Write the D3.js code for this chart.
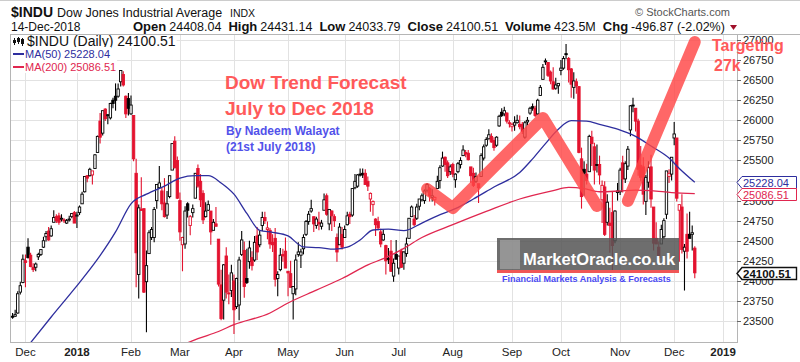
<!DOCTYPE html>
<html>
<head>
<meta charset="utf-8">
<script src="https://cdn.jsdelivr.net/npm/d3@7"></script>
<style>
  body { margin: 0; background: #fff; }
  svg { display: block; }
  text { font-family: "Liberation Sans", Arial, sans-serif; }
  .narrow { font-family: "Liberation Sans Narrow", "Arial Narrow", "Liberation Sans", Arial, sans-serif; }
</style>
</head>
<body>
<div id="chart"></div>
<script>
// ---- data ----
var holidays = ["2017-12-25","2018-01-01","2018-01-15","2018-02-19","2018-03-30","2018-05-28",
  "2018-07-04","2018-09-03","2018-11-22","2018-12-05","2018-12-25","2019-01-01"];
var firstSession = "2017-11-24";
var lastSession = "2019-01-02";

// daily [open, high, low, close], from 2017-11-24 to 2018-12-14
var ohlc = [
  // Nov 2017
  [23560,23600,23530,23560],[23560,23640,23550,23580],[23600,23870,23590,23840],[23860,23990,23830,23940],[23980,24330,23970,24270],
  // Dec 2017
  [24250,24330,23920,24230],[24420,24530,24280,24290],[24320,24350,24170,24180],[24170,24220,24110,24140],[24170,24230,24120,24210],
  [24300,24350,24260,24330],[24330,24390,24310,24390],[24420,24550,24410,24500],[24550,24620,24490,24590],[24620,24670,24500,24510],
  [24560,24690,24550,24650],[24730,24880,24730,24790],[24800,24830,24720,24750],[24810,24850,24700,24730],[24770,24830,24740,24780],
  [24760,24780,24720,24750],[24720,24770,24710,24750],[24760,24810,24740,24770],[24800,24840,24780,24840],[24850,24870,24720,24720],
  // Jan 2018
  [24810,24860,24660,24820],[24850,24940,24820,24920],[24960,25110,24960,25080],[25110,25300,25100,25300],[25310,25320,25230,25280],
  [25310,25410,25300,25390],[25320,25370,25200,25370],[25400,25580,25400,25570],[25600,25810,25600,25800],[25990,26090,25710,25790],
  [25840,26120,25810,26120],[26140,26150,25990,26020],[26060,26080,25950,26070],[26030,26220,26010,26210],[26250,26280,26150,26210],
  [26300,26460,26120,26250],[26300,26460,26280,26390],[26480,26620,26420,26620],[26570,26610,26420,26440],[26300,26310,26030,26080],
  [26270,26340,26060,26150],
  // Feb 2018
  [26080,26310,26070,26190],[26060,26060,25490,25520],[25340,25520,23920,24350],[24080,24950,23780,24910],[24890,25290,24880,24890],
  [24900,24900,23850,23860],[23990,24380,23360,24190],[24340,24630,24340,24600],[24540,24670,24510,24640],[24540,24920,24480,24890],
  [25000,25200,24900,25200],[25160,25430,25160,25220],[25120,25160,24880,24960],[24970,25280,24790,24800],[24820,25120,24770,24960],
  [25050,25310,25030,25310],[25380,25710,25380,25710],[25740,25800,25400,25410],[25500,25550,25020,25030],
  // Mar 2018
  [25000,25100,24500,24610],[24450,24550,24120,24540],[24460,24930,24400,24870],[24960,24980,24790,24880],[24690,24820,24570,24800],
  [24850,24950,24790,24900],[25030,25340,25030,25340],[25400,25450,25160,25180],[25240,25330,24920,25010],[25090,25130,24710,24760],
  [24800,24980,24790,24870],[24880,25000,24870,24950],[24870,24870,24450,24610],[24630,24770,24630,24730],[24710,24920,24680,24680],
  [24520,24520,23930,23960],[23950,24140,23510,23530],[23760,24210,23520,24200],[24310,24420,23780,23860],[23850,24080,23710,23850],
  [23880,24200,23800,24100],
  // Apr 2018
  [24000,24080,23340,23640],[23680,24040,23650,24030],[23700,24300,23510,24260],[24330,24620,24310,24510],[24380,24490,23790,23930],
  [24030,24400,23960,23980],[24240,24500,24150,24410],[24290,24370,24130,24190],[24260,24560,24240,24480],[24560,24670,24260,24360],
  [24450,24620,24420,24570],[24690,24860,24620,24790],[24790,24860,24710,24750],[24640,24740,24520,24660],[24630,24660,24400,24460],
  [24480,24580,24360,24450],[24530,24660,23930,24020],[24030,24120,23810,24080],[24140,24410,24120,24320],[24330,24400,24240,24310],
  [24370,24540,24160,24160],
  // May 2018
  [24120,24120,23810,24100],[24090,24250,23920,23920],[23840,23920,23520,23930],[23900,24330,23820,24260],[24330,24480,24300,24360],
  [24320,24400,24160,24360],[24400,24580,24330,24540],[24580,24760,24560,24740],[24740,24870,24700,24830],[24870,25010,24850,24900],
  [24800,24800,24610,24710],[24690,24800,24650,24770],[24730,24860,24630,24710],[24680,24760,24640,24720],[24880,25090,24880,25010],
  [25060,25090,24810,24830],[24710,24890,24630,24890],[24870,24880,24620,24810],[24800,24830,24670,24750],[24540,24590,24240,24360],
  [24450,24720,24450,24670],[24580,24670,24390,24420],
  // Jun 2018
  [24540,24690,24540,24640],[24700,24860,24690,24810],[24830,24860,24710,24800],[24820,25150,24800,25150],[25160,25330,25140,25240],
  [25180,25330,25160,25320],[25330,25400,25300,25320],[25340,25400,25280,25320],[25340,25390,25200,25200],[25240,25300,25120,25180],
  [25020,25100,24860,25090],[24950,25000,24810,24990],[24770,24780,24560,24700],[24740,24800,24630,24660],[24610,24650,24420,24460],
  [24510,24640,24500,24580],[24440,24450,24080,24250],[24280,24410,24210,24280],[24370,24510,24110,24120],[24060,24280,23990,24220],
  [24330,24510,24270,24270],
  // Jul 2018
  [24160,24310,24080,24310],[24370,24400,24160,24170],[24220,24370,24140,24360],[24340,24540,24300,24460],[24530,24780,24530,24780],
  [24800,24940,24800,24920],[24770,24820,24680,24700],[24780,24960,24760,24920],[24930,25020,24880,25020],[25010,25090,24990,25060],
  [25000,25140,24960,25120],[25130,25220,25100,25200],[25150,25170,24990,25060],[25040,25140,24990,25060],[25010,25050,24940,25040],
  [25150,25310,25150,25240],[25250,25440,25150,25410],[25430,25610,25420,25530],[25540,25550,25360,25450],[25470,25500,25280,25310],
  [25360,25450,25320,25420],
  // Aug 2018
  [25450,25470,25290,25330],[25260,25340,25160,25330],[25360,25480,25340,25460],[25450,25540,25400,25500],[25560,25690,25560,25630],
  [25600,25630,25540,25580],[25590,25630,25500,25510],[25420,25420,25220,25310],[25340,25410,25170,25190],[25240,25350,25220,25300],
  [25210,25210,24970,25160],[25300,25590,25300,25560],[25530,25700,25500,25670],[25690,25790,25670,25760],[25770,25890,25760,25820],
  [25800,25840,25720,25730],[25750,25790,25620,25660],[25690,25800,25670,25790],[25930,26070,25920,26050],[26100,26150,26040,26060],
  [26080,26170,26050,26120],[26090,26100,25960,25990],[25970,26000,25910,25960],
  // Sep 2018
  [25920,25970,25860,25950],[25940,26050,25870,25970],[25970,26070,25960,26000],[25950,26060,25890,25920],[25950,25980,25830,25860],
  [25790,25990,25770,25970],[25980,26040,25940,26000],[26090,26170,26070,26150],[26170,26210,26120,26150],[26150,26180,26040,26060],
  [26080,26270,26070,26250],[26310,26440,26310,26410],[26510,26700,26510,26660],[26730,26770,26690,26740],[26720,26720,26540,26560],
  [26600,26620,26450,26490],[26480,26660,26380,26390],[26400,26530,26380,26440],[26430,26460,26330,26460],
  // Oct 2018
  [26620,26750,26560,26650],[26650,26800,26630,26770],[26830,26950,26760,26830],[26770,26790,26470,26630],[26640,26650,26280,26450],
  [26410,26600,26270,26490],[26480,26520,26330,26430],[26420,26420,25590,25600],[25520,25660,24900,25050],[25390,25490,25060,25340],
  [25330,25460,25200,25250],[25360,25820,25360,25800],[25790,25870,25430,25710],[25670,25720,25200,25380],[25450,25700,25350,25440],
  [25450,25560,25200,25320],[25010,25250,24720,25190],[25170,25240,24560,24580],[24730,25080,24690,24980],[24720,24910,24350,24690],
  [24850,25110,24120,24440],[24500,24880,24470,24870],[25100,25220,25000,25120],
  // Nov 2018
  [25110,25410,25070,25380],[25470,25560,25100,25270],[25270,25490,25220,25460],[25430,25680,25380,25640],[25880,26190,25800,26180],
  [26190,26280,26100,26190],[26150,26150,25860,25990],[25990,26020,25310,25390],[25440,25680,25240,25290],[25420,25540,24950,25080],
  [24990,25320,24820,25290],[25230,25490,25160,25410],[25420,25570,24910,25020],[24920,24920,24380,24470],[24530,24730,24460,24460],
  [24420,24490,24270,24290],[24460,24700,24460,24640],[24550,24780,24520,24750],[24830,25370,24770,25370],[25300,25390,25220,25340],
  [25330,25540,25250,25540],
  // Dec 2018
  [25780,25980,25690,25830],[25780,25780,24990,25030],[24880,24950,24240,24950],[24920,25080,24340,24390],[24370,24460,23880,24420],
  [24580,24840,24280,24370],[24580,24860,24530,24530],[24580,24690,24380,24600],[24408.04,24431.14,24033.79,24100.51]
];

// moving averages: [date, value]
var ma50 = [
  ["2017-12-05",23230],["2017-12-15",23550],["2017-12-29",23900],["2018-01-12",24270],["2018-01-24",24610],
  ["2018-02-01",24960],["2018-02-09",25080],["2018-02-21",25180],["2018-03-01",25280],["2018-03-09",25310],
  ["2018-03-16",25310],["2018-03-23",25220],["2018-04-02",25080],["2018-04-09",24840],["2018-04-16",24630],
  ["2018-04-23",24605],["2018-05-01",24560],["2018-05-09",24423],["2018-05-17",24415],["2018-05-25",24395],
  ["2018-06-04",24420],["2018-06-11",24510],["2018-06-18",24634],["2018-06-26",24645],["2018-07-05",24625],
  ["2018-07-16",24720],["2018-07-24",24810],["2018-08-02",24900],["2018-08-13",25020],["2018-08-23",25170],
  ["2018-09-07",25350],["2018-09-14",25520],["2018-09-21",25710],["2018-09-28",25890],["2018-10-05",25995],
  ["2018-10-15",25990],["2018-10-22",25950],["2018-10-31",25890],["2018-11-09",25800],["2018-11-19",25680],
  ["2018-11-29",25530],["2018-12-06",25400],["2018-12-14",25228.04]
];
var ma200 = [
  ["2018-03-01",23190],["2018-03-12",23280],["2018-03-22",23370],["2018-04-02",23455],["2018-04-20",23600],
  ["2018-05-01",23725],["2018-05-16",23885],["2018-05-31",24030],["2018-06-14",24200],["2018-06-25",24290],
  ["2018-07-05",24405],["2018-07-16",24540],["2018-08-01",24700],["2018-08-20",24865],["2018-09-07",25020],
  ["2018-09-26",25125],["2018-10-04",25165],["2018-10-12",25150],["2018-10-22",25110],["2018-11-01",25120],
  ["2018-11-09",25130],["2018-11-19",25125],["2018-11-30",25100],["2018-12-14",25086.51]
];

// hand drawn forecast path (two strokes)
var forecastA = [["2018-07-18",25145],["2018-08-01",24908],["2018-09-20",26029],["2018-10-19",24933]];
var forecastB = [["2018-11-06",24995],["2018-12-14",26975]];

var yTicks = [23500,23750,24000,24250,24500,24750,25000,25250,25500,25750,26000,26250,26500,26750,27000];
var monthLabels = [["2017-12-01","Dec"],["2018-01-02","2018"],["2018-02-01","Feb"],["2018-03-01","Mar"],
  ["2018-04-02","Apr"],["2018-05-01","May"],["2018-06-01","Jun"],["2018-07-02","Jul"],["2018-08-01","Aug"],
  ["2018-09-04","Sep"],["2018-10-01","Oct"],["2018-11-01","Nov"],["2018-12-03","Dec"],["2019-01-02","2019"]];
var quote = [["Open","24408.04"],["High","24431.14"],["Low","24033.79"],["Close","24100.51"],
  ["Volume","423.5M"],["Chg","-496.87 (-2.02%)"]];

// ---- build ----
var width = 800, height = 362;
var plot = {left: 10, right: 737, top: 34, bottom: 342};

var fmt = d3.utcFormat("%Y-%m-%d");
var sessions = d3.utcDays(new Date(firstSession), d3.utcDay.offset(new Date(lastSession), 1))
  .filter(d => d.getUTCDay() % 6 !== 0 && !holidays.includes(fmt(d)));
var idx = new Map(sessions.map((d, i) => [fmt(d), i]));

var x = d3.scaleLinear().domain([-1, 281.4]).range([plot.left, plot.right]);
var y = d3.scaleLinear().domain([23239, 27075]).range([plot.bottom, plot.top]);

var svg = d3.select("#chart").append("svg")
  .attr("width", width).attr("height", height);

svg.append("defs").append("clipPath").attr("id", "clip")
  .append("rect").attr("x", plot.left).attr("y", plot.top)
  .attr("width", plot.right - plot.left).attr("height", plot.bottom - plot.top);

// grid
var grid = svg.append("g");
grid.selectAll(".hg").data(yTicks).join("line")
  .attr("x1", plot.left).attr("x2", plot.right)
  .attr("y1", d => Math.round(y(d)) + 0.5).attr("y2", d => Math.round(y(d)) + 0.5)
  .attr("stroke", "#e2e2e2");
grid.selectAll(".vg").data(monthLabels).join("line")
  .attr("x1", d => Math.round(x(idx.get(d[0]))) + 0.5).attr("x2", d => Math.round(x(idx.get(d[0]))) + 0.5)
  .attr("y1", plot.top).attr("y2", plot.bottom)
  .attr("stroke", "#e2e2e2");

// frame
svg.append("line").attr("x1", 0).attr("x2", width).attr("y1", 0.5).attr("y2", 0.5).attr("stroke", "#ccc");
svg.append("rect").attr("x", plot.left + 0.5).attr("y", plot.top + 0.5)
  .attr("width", plot.right - plot.left).attr("height", plot.bottom - plot.top)
  .attr("fill", "none").attr("stroke", "#b5b5b5");
svg.append("line").attr("x1", plot.right).attr("x2", width).attr("y1", plot.top + 0.5).attr("y2", plot.top + 0.5)
  .attr("stroke", "#b5b5b5");

// candles
var bars = ohlc.map((d, i) => ({i: i, o: d[0], h: d[1], l: d[2], c: d[3],
  up: i === 0 || d[3] >= ohlc[i - 1][3]}));
var candles = svg.append("g").attr("clip-path", "url(#clip)");
candles.selectAll("line").data(bars).join("line")
  .attr("x1", d => x(d.i)).attr("x2", d => x(d.i))
  .attr("y1", d => y(d.h)).attr("y2", d => y(d.l))
  .attr("stroke", d => d.up ? "#000" : "#e3132f").attr("stroke-width", 1.1);
candles.selectAll("rect").data(bars).join("rect")
  .attr("x", d => x(d.i) - 1.2).attr("width", 2.4)
  .attr("y", d => y(Math.max(d.o, d.c)))
  .attr("height", d => Math.max(1, Math.abs(y(d.o) - y(d.c))))
  .attr("fill", d => d.c > d.o ? "#fff" : (d.up ? "#000" : "#e3132f"))
  .attr("stroke", d => d.up ? "#000" : "#e3132f").attr("stroke-width", 0.9);

// moving averages
var maLine = d3.line().x(d => x(idx.get(d[0]))).y(d => y(d[1])).curve(d3.curveMonotoneX);
var overlays = svg.append("g").attr("clip-path", "url(#clip)");
overlays.append("path").attr("d", maLine(ma200)).attr("fill", "none")
  .attr("stroke", "#e0264f").attr("stroke-width", 1.3);
overlays.append("path").attr("d", maLine(ma50)).attr("fill", "none")
  .attr("stroke", "#2e2e9e").attr("stroke-width", 1.3);

// legend
var legend = svg.append("g");
var legendRows = [
  {t: "$INDU (Daily) 24100.51", c: "#111", y: 46, size: 14},
  {t: "MA(50) 25228.04", c: "#2e2e9e", y: 58, size: 11},
  {t: "MA(200) 25086.51", c: "#e0264f", y: 71, size: 11}
];
legendRows.forEach(function (r, k) {
  var bg = legend.append("rect").attr("fill", "#fff");
  var t = legend.append("text").attr("x", k === 0 ? 27 : 25).attr("y", r.y)
    .attr("font-size", r.size).attr("fill", r.c).text(r.t);
  var w = t.node().getComputedTextLength();
  bg.attr("x", plot.left + 1).attr("y", r.y - 11).attr("width", (k === 0 ? 27 : 25) + w - plot.left)
    .attr("height", 13);
  if (k > 0) {
    legend.append("line").attr("x1", 13).attr("x2", 24).attr("y1", r.y - 4).attr("y2", r.y - 4)
      .attr("stroke", r.c).attr("stroke-width", 2);
  }
});
// tiny candle icon
[[14, 38, 45, 40, 43], [18, 37, 44, 38, 42], [22, 38, 46, 39, 44]].forEach(function (c) {
  legend.append("line").attr("x1", c[0] + 0.5).attr("x2", c[0] + 0.5).attr("y1", c[1]).attr("y2", c[2]).attr("stroke", "#111");
  legend.append("rect").attr("x", c[0] - 1).attr("y", c[3]).attr("width", 3).attr("height", c[4] - c[3]).attr("fill", "#111");
});

// value flags on right axis
var flags = [
  {v: ma50[ma50.length - 1][1], c: "#2e2e9e", bold: false},
  {v: ma200[ma200.length - 1][1], c: "#e0264f", bold: false},
  {v: ohlc[ohlc.length - 1][3], c: "#111", bold: true}
];

// right axis (labels fully hidden by a flag are left out)
var axis = svg.append("g");
axis.selectAll("line").data(yTicks).join("line")
  .attr("x1", plot.right).attr("x2", plot.right + 4)
  .attr("y1", d => Math.round(y(d)) + 0.5).attr("y2", d => Math.round(y(d)) + 0.5)
  .attr("stroke", "#666");
axis.selectAll("text").data(yTicks.filter(t => !flags.some(f => Math.abs(y(f.v) - y(t)) < 4))).join("text")
  .attr("class", "narrow")
  .attr("x", plot.right + 6).attr("y", d => y(d) + 4)
  .attr("font-size", 11).attr("fill", "#222").text(d => d);

// x axis labels
svg.append("g").selectAll("text").data(monthLabels).join("text")
  .attr("class", "narrow")
  .attr("x", d => x(idx.get(d[0]))).attr("y", 356)
  .attr("text-anchor", "middle").attr("font-size", 11.5)
  .attr("font-weight", d => /^\d/.test(d[1]) ? "bold" : "normal")
  .attr("fill", "#222").text(d => d[1]);

// forecast strokes
var fcLine = d3.line().x(d => x(idx.get(d[0]))).y(d => y(d[1]));
[forecastA, forecastB].forEach(function (f) {
  svg.append("path").attr("d", fcLine(f)).attr("fill", "none")
    .attr("stroke", "#ff4545").attr("stroke-opacity", 0.82).attr("stroke-width", 12)
    .attr("stroke-linecap", "round").attr("stroke-linejoin", "round");
});

flags.forEach(function (f) {
  var yy = Math.round(y(f.v)) + 0.5;
  svg.append("path")
    .attr("d", "M" + (plot.right) + "," + yy + "L" + (plot.right + 5) + "," + (yy - 6) + "L796.5," + (yy - 6) +
      "L796.5," + (yy + 6) + "L" + (plot.right + 5) + "," + (yy + 6) + "Z")
    .attr("fill", "#fff").attr("stroke", f.c).attr("stroke-width", f.bold ? 1.4 : 1);
  svg.append("text").attr("x", plot.right + 6).attr("y", yy + 4)
    .attr("font-size", f.bold ? 11.5 : 11).attr("font-weight", f.bold ? "bold" : "normal")
    .attr("fill", f.c).text(d3.format(".2f")(f.v));
});

// MarketOracle logo
var logo = svg.append("g");
logo.append("rect").attr("x", 497).attr("y", 238).attr("width", 182).attr("height", 32)
  .attr("fill", "#555").attr("fill-opacity", 0.85);
logo.append("rect").attr("x", 500).attr("y", 240).attr("width", 20).attr("height", 29)
  .attr("fill", "#bbb").attr("fill-opacity", 0.5);
logo.append("rect").attr("x", 497).attr("y", 270).attr("width", 182).attr("height", 3).attr("fill", "#f05656");
logo.append("text").attr("x", 523).attr("y", 265).attr("font-size", 16.5).attr("font-weight", "bold")
  .attr("fill", "#fff").text("MarketOracle.co.uk");
logo.append("text").attr("x", 502).attr("y", 282).attr("font-size", 9).attr("font-weight", "bold")
  .attr("fill", "#4a4af5").text("Financial Markets Analysis & Forecasts");

// annotations
var notes = svg.append("g").attr("font-weight", "bold");
notes.append("text").attr("x", 225).attr("y", 89).attr("font-size", 19).attr("fill", "#ff5a5a").text("Dow Trend Forecast");
notes.append("text").attr("x", 225).attr("y", 115).attr("font-size", 19).attr("fill", "#ff5a5a").text("July to Dec 2018");
notes.append("text").attr("x", 226).attr("y", 135).attr("font-size", 12).attr("fill", "#5252ea").text("By Nadeem Walayat");
notes.append("text").attr("x", 226).attr("y", 151).attr("font-size", 12).attr("fill", "#5252ea").text("(21st July 2018)");
notes.append("text").attr("x", 712).attr("y", 51).attr("font-size", 16).attr("fill", "#ff5a5a").text("Targeting");
notes.append("text").attr("x", 714).attr("y", 71).attr("font-size", 16).attr("fill", "#ff5a5a").text("27k");

// header
var head = svg.append("g").attr("fill", "#111");
head.append("text").attr("x", 11).attr("y", 17).attr("font-size", 14).attr("font-weight", "bold").text("$INDU");
head.append("text").attr("x", 57).attr("y", 17).attr("font-size", 12.5).text("Dow Jones Industrial Average");
head.append("text").attr("x", 230).attr("y", 17).attr("font-size", 10.5).text("INDX");
head.append("text").attr("x", 11).attr("y", 31).attr("font-size", 12).text("14-Dec-2018");
head.append("text").attr("x", 635).attr("y", 16).attr("font-size", 11).attr("fill", "#555").text("\u00a9 StockCharts.com");
var qx = 133;
quote.forEach(function (q) {
  var a = head.append("text").attr("x", qx).attr("y", 31).attr("font-size", 13).attr("font-weight", "bold").text(q[0]);
  qx += a.node().getComputedTextLength() + 3;
  var b = head.append("text").attr("x", qx).attr("y", 31).attr("font-size", 12.5).text(q[1]);
  qx += b.node().getComputedTextLength() + 7;
});
head.append("path").attr("d", "M730,25L737,25L733.5,30Z").attr("fill", "#a0102a");
</script>
</body>
</html>
